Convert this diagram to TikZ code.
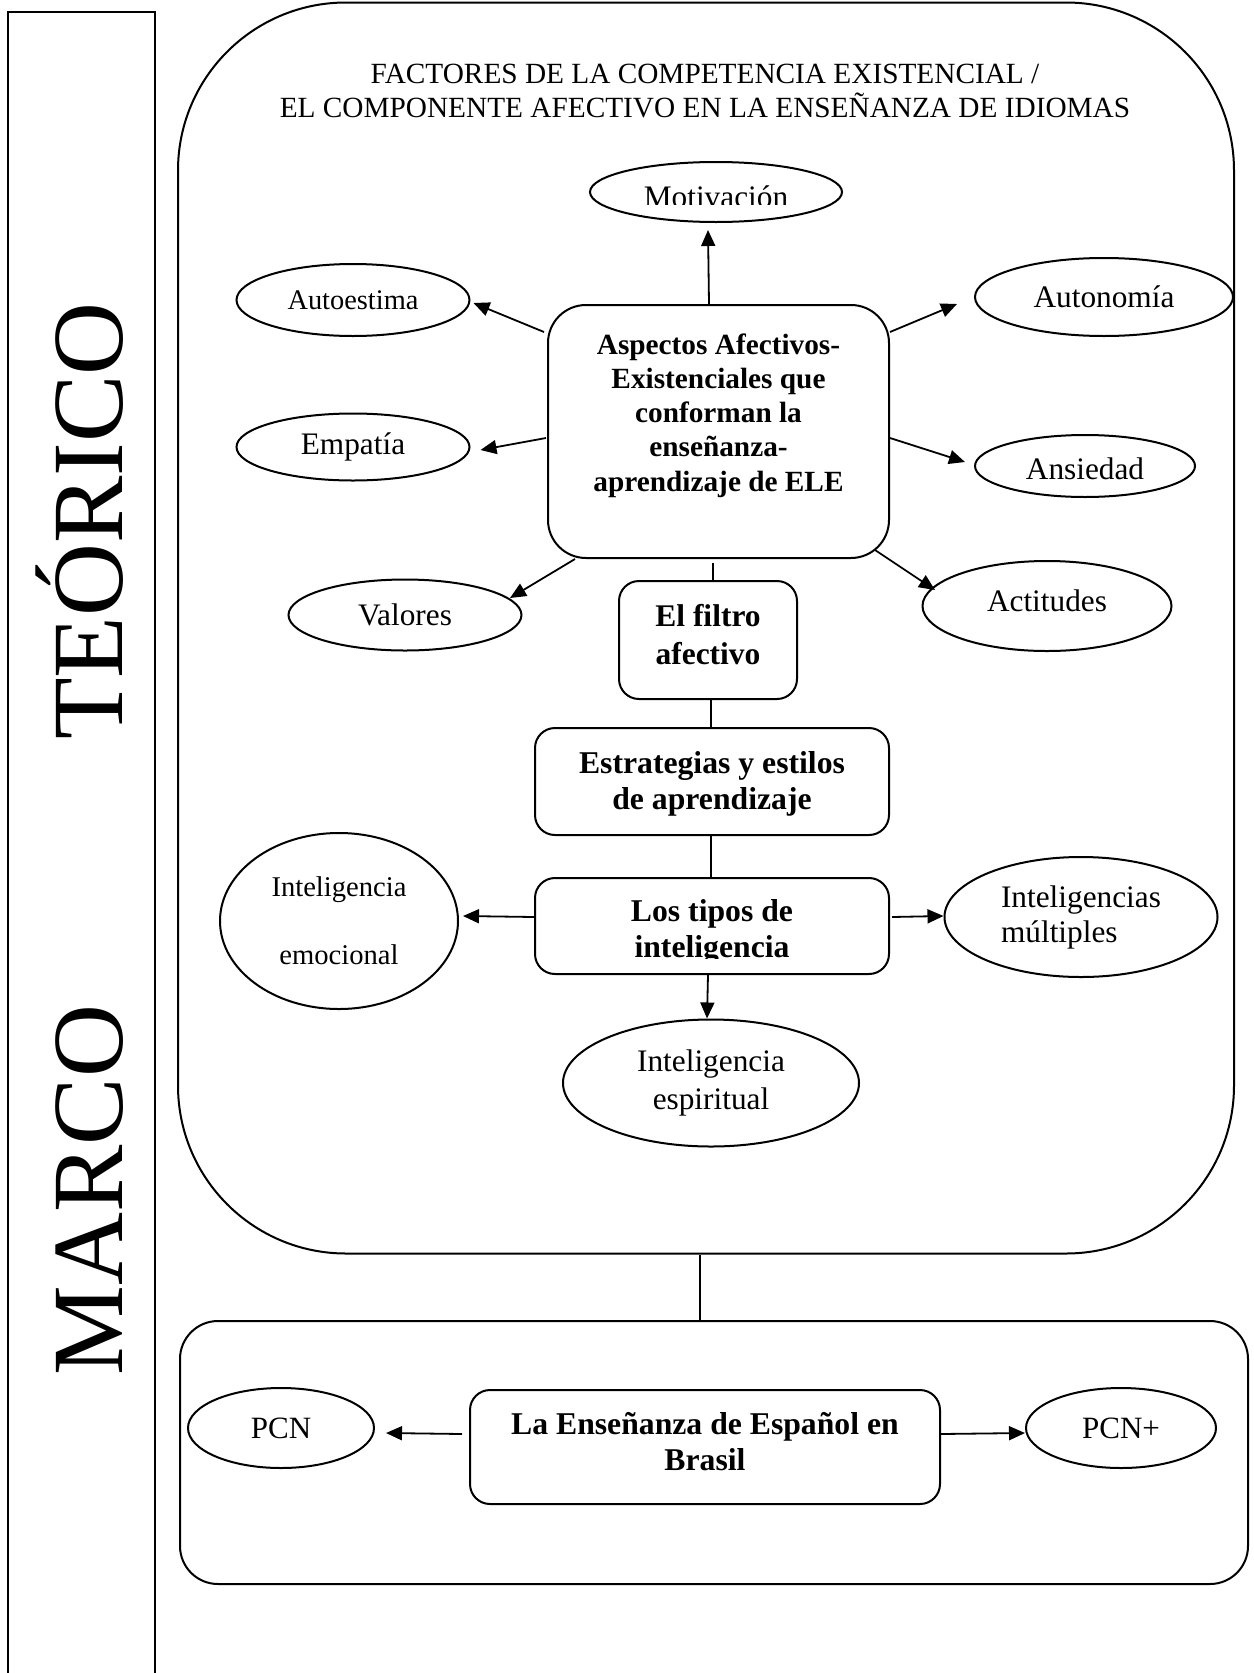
\documentclass[tikz,border=0pt]{standalone}
\usepackage{fontspec}
\setmainfont{Liberation Serif}
\usetikzlibrary{shapes.geometric,arrows.meta,calc}

\begin{document}
\begin{tikzpicture}[x=1pt,y=-1pt,line width=2pt,
  oval/.style={draw, ellipse, inner sep=0pt, font=\fontsize{31.3}{36}\selectfont},
  card/.style={draw, rounded corners=20pt, inner sep=0pt, anchor=north west, align=flush center,
    font=\bfseries\fontsize{31.7}{36}\selectfont},
  cardtext/.style={card, draw=none},
  joinline/.style={line width=1.6pt},
  arr/.style={line width=1.8pt, -{Triangle[length=16pt,width=14pt]}},
  stripline/.style={line width=1.6pt},
  vtitle/.style={rotate=90, anchor=base, font=\fontsize{101}{110}\selectfont},
  headline/.style={anchor=base, font=\fontsize{29.3}{34}\selectfont}]
\useasboundingbox (0,0) rectangle (1253,1673);

% side strip with the rotated heading
\draw[stripline] (8,1673) -- (8,12) -- (155,12) -- (155,1673);
\node[vtitle] (teorico) at (122,521) {TEÓRICO};
\node[vtitle] (marco) at (122,1190) {MARCO};

% the two large containers
\node[draw, rounded corners=168pt, inner sep=0pt, anchor=north west,
      minimum width=1056pt, minimum height=1251pt] (upper) at (177,1.5) {};
\node[draw, rounded corners=38pt, inner sep=0pt, anchor=north west,
      minimum width=1068pt, minimum height=263pt] (lower) at (179,1320) {};

% heading of the upper container
\node[headline] (head1) at (705,83) {FACTORES DE LA COMPETENCIA EXISTENCIAL /};
\node[headline] (head2) at (705,117) {EL COMPONENTE AFECTIVO EN LA ENSEÑANZA DE IDIOMAS};

% central box
\node[card, rounded corners=38pt, text width=341pt, text height=49pt, text depth=204pt,
      font=\bfseries\fontsize{29.3}{34.3}\selectfont] (asp) at (547,304)
  {Aspectos Afectivos-\\Existenciales que\\conforman la\\enseñanza-\\aprendizaje de ELE};

% affective factors around the central box
\node[oval, minimum width=252pt, minimum height=60pt] (mot) at (716,192) {};
\begin{scope}
  \clip (590,150) rectangle (842,204.5);
  \node[anchor=base, font=\fontsize{31.3}{36}\selectfont] (mottext) at (716,207) {Motivación};
\end{scope}
\node[oval, minimum width=233pt, minimum height=72pt, font=\fontsize{28.4}{34}\selectfont] (autoe) at (353,300) {Autoestima};
\node[oval, minimum width=233pt, minimum height=67pt] (emp) at (353,447) {Empatía};
\node[oval, minimum width=233pt, minimum height=71pt] (val) at (405,615) {Valores};
\node[oval, minimum width=258pt, minimum height=78pt] (auton) at (1104,297) {Autonomía};
\node[oval, minimum width=220pt, minimum height=62pt, text height=28pt] (ans) at (1085,466) {Ansiedad};
\node[oval, minimum width=249pt, minimum height=90pt, text depth=11pt] (act) at (1047,606) {Actitudes};

% vertical chain of boxes
\node[card, text width=178pt, text height=45pt, text depth=73pt,
      font=\bfseries\fontsize{31.5}{38}\selectfont] (filtro) at (618,580) {El filtro\\afectivo};
\node[card, text width=354pt, text height=45pt, text depth=62pt] (estr) at (534,727)
  {Estrategias y estilos\\de aprendizaje};
\node[card, text width=354pt, text height=43pt, text depth=53pt] (tipos) at (534,877) {};
\begin{scope}
  \clip (534,877) rectangle (888,958);
  \node[cardtext, text width=354pt, text height=43pt, text depth=53pt] (tipostext) at (534,877)
    {Los tipos de\\inteligencia};
\end{scope}

% types of intelligence
\node[oval, minimum width=238pt, minimum height=176pt, align=center,
      font=\fontsize{28.6}{34}\selectfont] (emo) at (339,921) {Inteligencia\\[34pt]emocional};
\node[oval, minimum width=273pt, minimum height=120pt, align=left,
      font=\fontsize{31.3}{35}\selectfont] (mul) at (1081,917) {Inteligencias\\múltiples};
\node[oval, minimum width=296pt, minimum height=127pt, align=center,
      font=\fontsize{31.3}{38}\selectfont] (esp) at (711,1083) {Inteligencia\\espiritual};

% lower container contents
\node[card, text width=470pt, text height=44pt, text depth=70pt] (ens) at (469,1389)
  {La Enseñanza de Español en\\Brasil};
\node[oval, minimum width=186pt, minimum height=80pt, font=\fontsize{31}{36}\selectfont] (pcn) at (281,1428) {PCN};
\node[oval, minimum width=190pt, minimum height=80pt, font=\fontsize{31}{36}\selectfont] (pcnp) at (1121,1428) {PCN+};

% arrows from the central box
\draw[arr] ($(asp.north)+(-9.5,0)$) -- ($(mot.south)+(-8,7)$);
\draw[arr] ($(asp.north west)+(-3,28)$) -- ($(autoe.east)+(3,3)$);
\draw[arr] ($(asp.north west)+(-1,134)$) -- ($(emp.east)+(10,3)$);
\draw[arr] ($(asp.north east)+(0,28)$) -- ($(auton.west)+(-17,7)$);
\draw[arr] ($(asp.north east)+(0,134)$) -- ($(ans.west)+(-9,-4)$);
\draw[arr] ($(asp.south west)+(28,0)$) -- ($(val.center)+(105,-17)$);
\draw[arr] ($(asp.south east)+(-15,-9)$) -- ($(act.center)+(-112,-16)$);

% plain links down the chain
\draw[joinline] ($(asp.south)+(-5.5,4)$) -- ($(filtro.north)+(5,0)$);
\draw[joinline] ($(filtro.south)+(3,0)$) -- ($(estr.north)+(-1,0)$);
\draw[joinline] ($(estr.south)+(-1,0)$) -- ($(tipos.north)+(-1,0)$);

% arrows to the kinds of intelligence
\draw[arr] ($(tipos.west)+(0,-9)$) -- ($(emo.east)+(4,-5)$);
\draw[arr] ($(tipos.east)+(2,-9)$) -- ($(mul.west)+(0,-1)$);
\draw[arr] ($(tipos.south)+(-4,0)$) -- ($(esp.north)+(-4,0)$);

% link between containers
\draw[joinline] ($(upper.south)+(-6,0)$) -- ($(lower.north)+(-14,0)$);

% arrows in the lower container
\draw[arr] ($(ens.west)+(-7,-13)$) -- ($(pcn.east)+(11,5)$);
\draw[arr] ($(ens.east)+(0,-13)$) -- ($(pcnp.west)+(0,5)$);
\end{tikzpicture}
\end{document}
